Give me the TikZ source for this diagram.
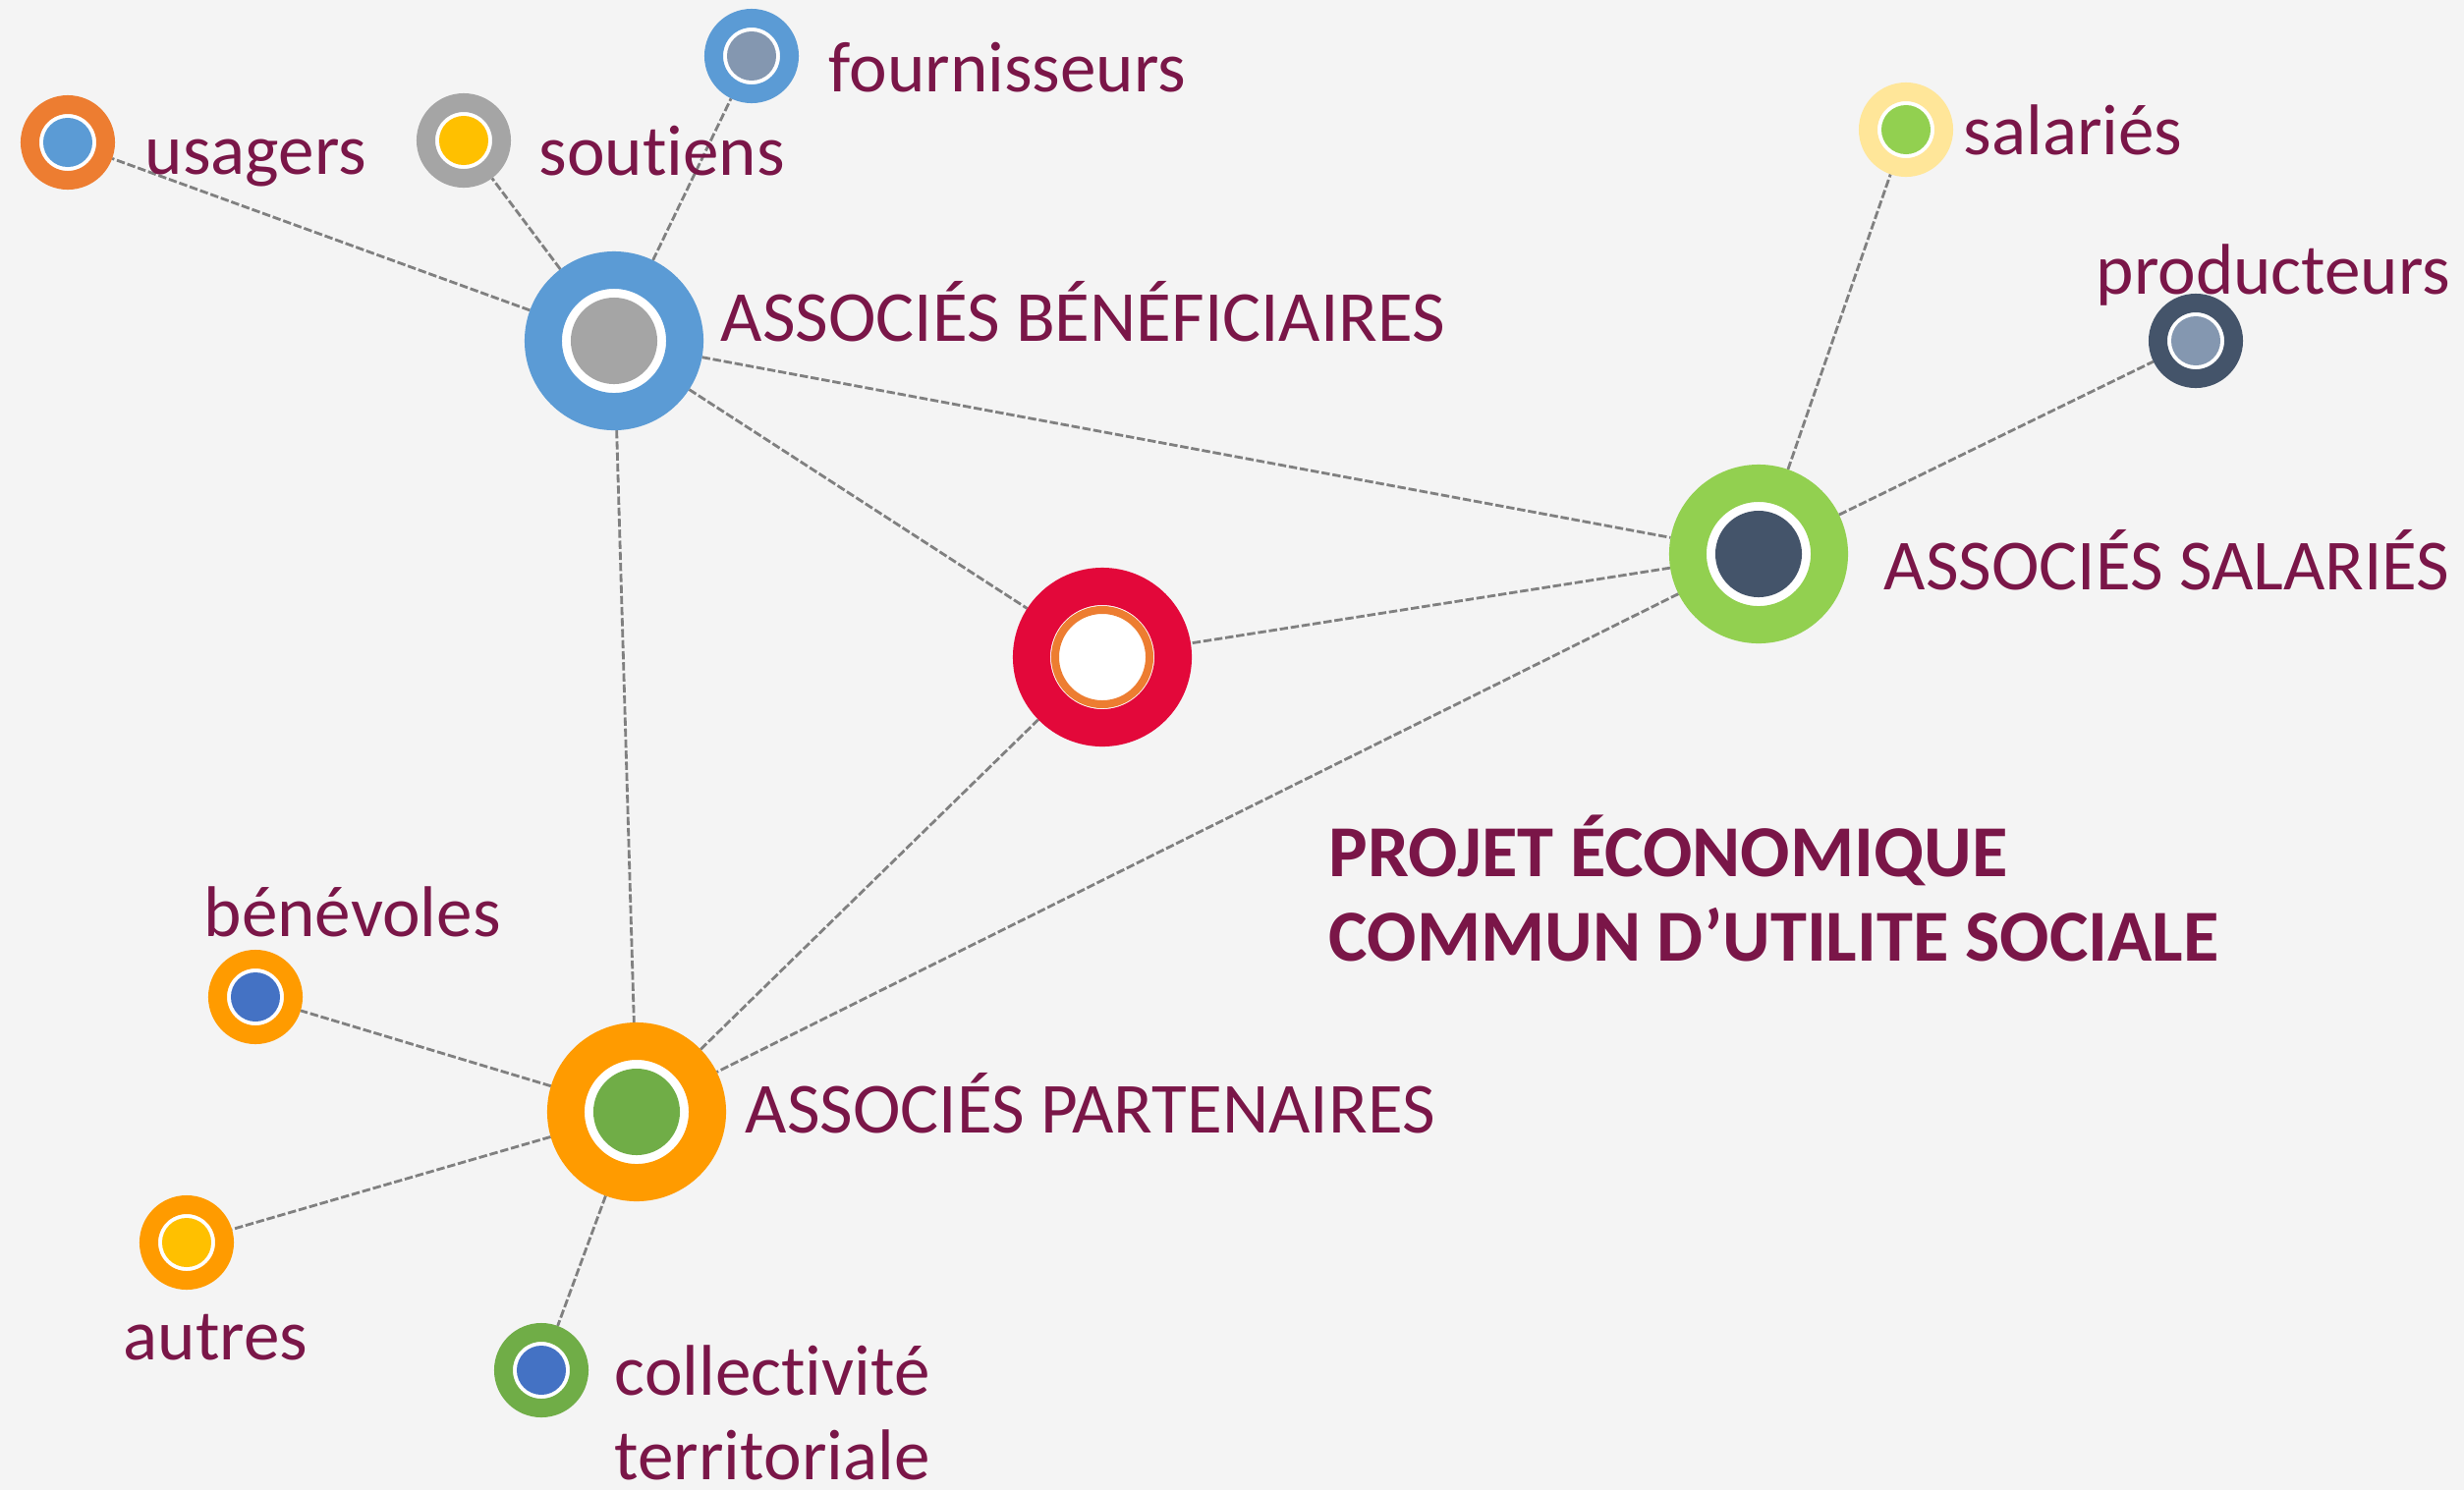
\documentclass[tikz,border=0pt]{standalone}
\usepackage{fontspec}
\setmainfont{Carlito}[Ligatures=NoCommon]
\definecolor{papier}{RGB}{244,244,244}
\definecolor{prune}{RGB}{122,22,72}
\definecolor{bleu}{RGB}{91,155,213}
\definecolor{bleuf}{RGB}{68,114,196}
\definecolor{gris}{RGB}{165,165,165}
\definecolor{rouge}{RGB}{227,8,58}
\definecolor{orangef}{RGB}{237,125,49}
\definecolor{orangec}{RGB}{255,155,0}
\definecolor{vert}{RGB}{146,208,80}
\definecolor{vertf}{RGB}{112,173,71}
\definecolor{ardoise}{RGB}{68,84,106}
\definecolor{ardoisec}{RGB}{132,151,176}
\definecolor{jaune}{RGB}{255,192,0}
\definecolor{jaunec}{RGB}{255,230,153}
\pgfdeclarelayer{fond}
\pgfdeclarelayer{liens}
\pgfsetlayers{fond,liens,main}
\tikzset{
	hub/.style 2 args={circle, inner sep=0pt, minimum size=1.44cm, fill=white, draw=#1, line width=0.38cm,
		path picture={\fill[#2] (path picture bounding box.center) circle (0.44cm);}},
	leaf/.style 2 args={circle, inner sep=0pt, minimum size=0.77cm, fill=white, draw=#1, line width=0.19cm,
		path picture={\fill[#2] (path picture bounding box.center) circle (0.25cm);}},
	lien/.style={draw=gray, line width=0.8pt, dash pattern=on 2.4pt off 0.8pt},
	etiq/.style={text=prune, font=\fontsize{20.8}{24.2}\selectfont, anchor=base west, inner sep=0pt, align=left},
}
\begin{document}
\begin{tikzpicture}[x=0.01cm, y=-0.01cm]
		\begin{pgfonlayer}{fond}
		\fill[papier] (0,0) rectangle (2508,1517);
		\end{pgfonlayer}
		\useasboundingbox (0,0) rectangle (2508,1517);
		% les quatre pôles
		\node[hub={bleu}{gris}] (ben) at (625,347) {};
		\node[hub={vert}{ardoise}] (sal) at (1790,564) {};
		\node[hub={orangec}{vertf}] (par) at (648,1132) {};
		\node[circle, inner sep=0pt, minimum size=1.44cm, fill=white, draw=rouge, line width=0.38cm,
			path picture={\draw[orangef, line width=0.08cm] (path picture bounding box.center) circle (0.48cm);}] (core) at (1122,669) {};
		% les parties prenantes
		\node[leaf={orangef}{bleu}] (usagers) at (69,145) {};
		\node[leaf={gris}{jaune}] (soutiens) at (472,143) {};
		\node[leaf={bleu}{ardoisec}] (fourn) at (765,57) {};
		\node[leaf={jaunec}{vert}] (salaries) at (1940,132) {};
		\node[leaf={ardoise}{ardoisec}] (prod) at (2235,347) {};
		\node[leaf={orangec}{bleuf}] (benev) at (260,1015) {};
		\node[leaf={orangec}{jaune}] (autres) at (190,1265) {};
		\node[leaf={vertf}{bleuf}] (coll) at (551,1395) {};
		\begin{pgfonlayer}{liens}
		\foreach \a/\b in {ben/usagers, ben/soutiens, ben/fourn, ben/sal, ben/core, ben/par,
			sal/salaries, sal/prod, sal/core, sal/par, par/core, par/benev, par/autres, par/coll}
			\draw[lien] (\a) -- (\b);
		\end{pgfonlayer}
		% textes
		\node[etiq] (t-fourn) at (843,93) {fournisseurs};
		\node[etiq] (t-usagers) at (147,177) {usagers};
		\node[etiq] (t-soutiens) at (548,178) {soutiens};
		\node[etiq] (t-ben) at (733,347) {ASSOCIÉS BÉNÉFICIAIRES};
		\node[etiq] (t-salaries) at (1998,157) {salariés};
		\node[etiq] (t-prod) at (2133,299) {producteurs};
		\node[etiq] (t-sal) at (1917,600) {ASSOCIÉS SALARIÉS};
		\node[etiq, font=\fontsize{21.2}{24.2}\selectfont\bfseries] (t-projet) at (1352,978) {PROJET ÉCONOMIQUE\\COMMUN D’UTILITE SOCIALE};
		\node[etiq] (t-benev) at (207,953) {bénévoles};
		\node[etiq] (t-par) at (758,1153) {ASSOCIÉS PARTENAIRES};
		\node[etiq] (t-autres) at (125,1384) {autres};
		\node[etiq] (t-coll) at (625,1506) {collectivité\\territoriale};
\end{tikzpicture}
\end{document}
